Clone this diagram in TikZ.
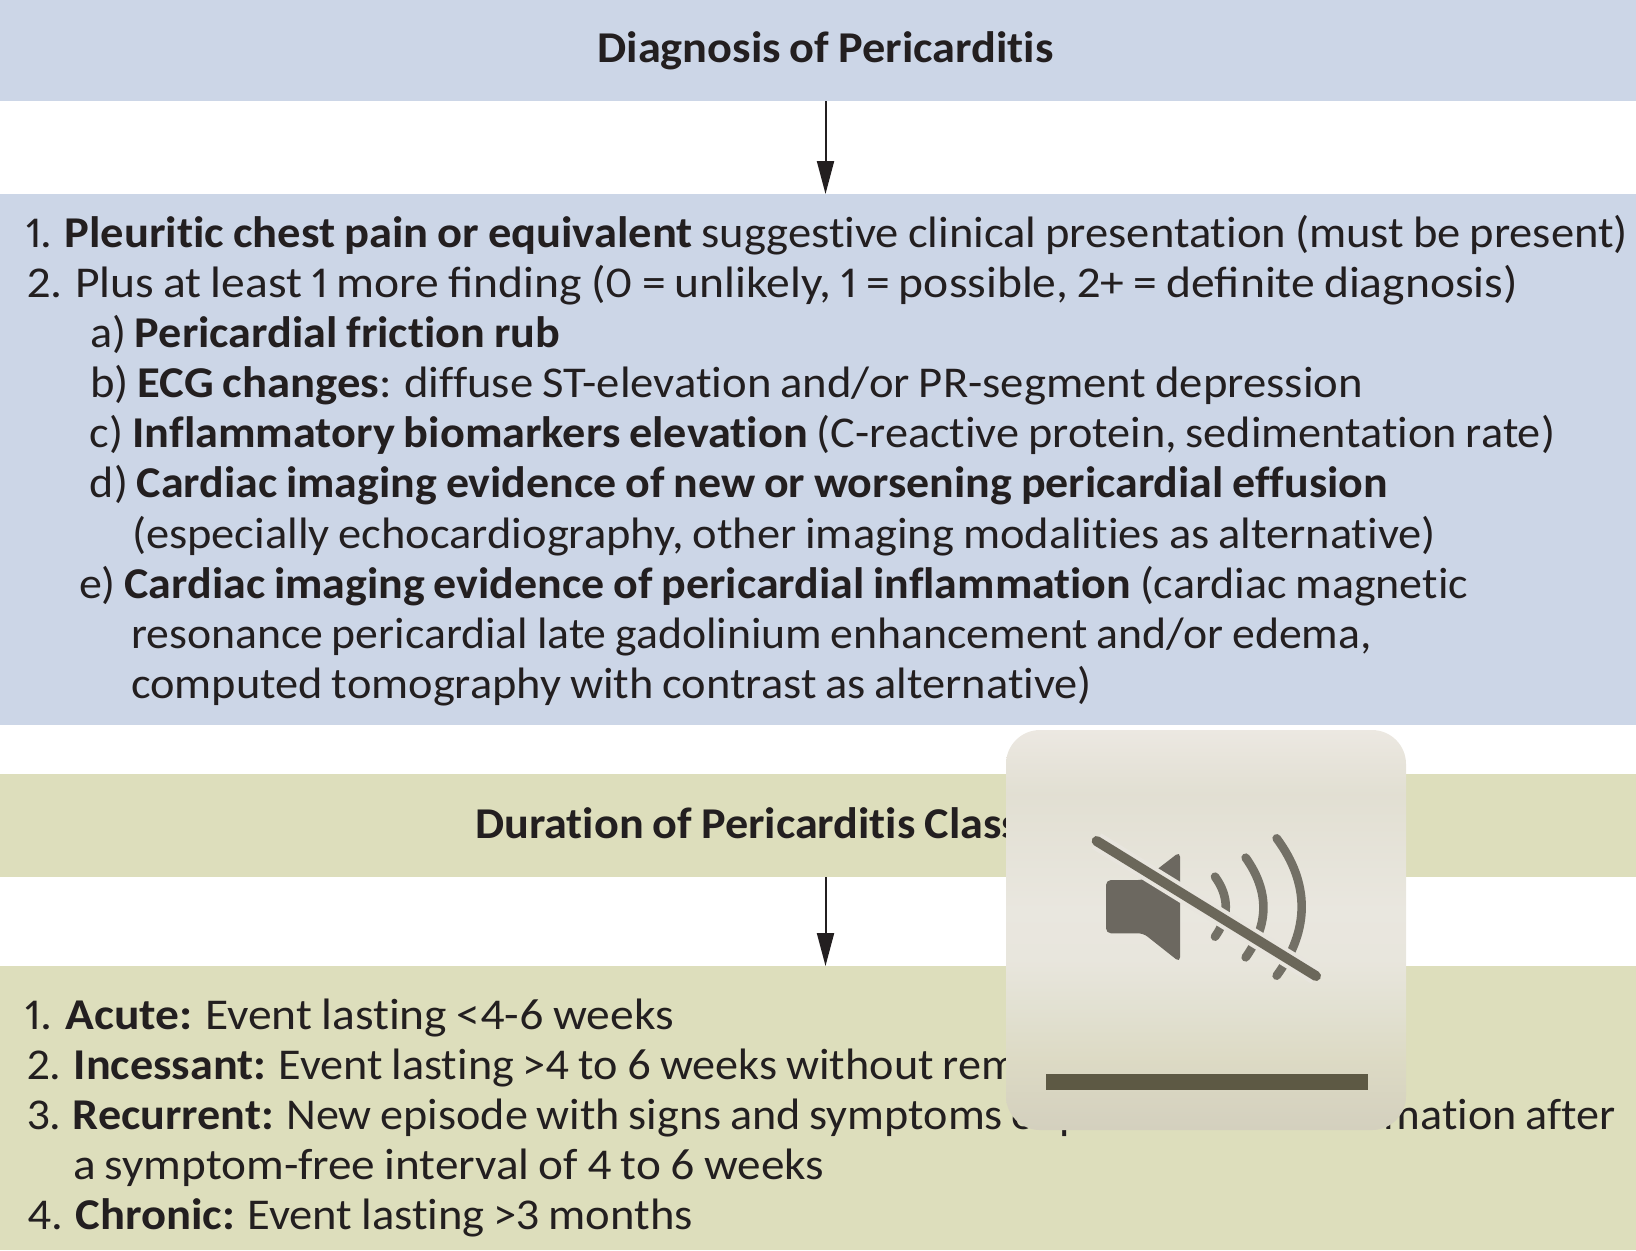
\documentclass[tikz,border=0pt]{standalone}
\usepackage{fontspec}
\usepackage{graphicx}
\setmainfont{Carlito}[Numbers=Proportional,RawFeature=-liga,WordSpace=0.85]
\usetikzlibrary{arrows.meta}
\definecolor{bluebar}{RGB}{204,214,231}
\definecolor{greenbar}{RGB}{221,222,188}
\definecolor{ink}{RGB}{35,31,32}
\definecolor{spk}{RGB}{108,104,96}
\definecolor{arcc}{RGB}{115,112,102}
\definecolor{slash}{RGB}{107,103,90}
\definecolor{ovbar}{RGB}{93,89,68}
\definecolor{casing}{RGB}{232,229,222}
\pgfdeclareverticalshading{ovl}{100bp}{
 rgb(0bp)=(.83,.815,.745);
 rgb(25bp)=(.83,.815,.745);
 rgb(33.75bp)=(.865,.855,.77);
 rgb(40bp)=(.885,.88,.82);
 rgb(46bp)=(.91,.9,.865);
 rgb(52.5bp)=(.915,.905,.875);
 rgb(67bp)=(.885,.875,.825);
 rgb(75bp)=(.925,.91,.885);
 rgb(100bp)=(.925,.91,.885)}
\newcommand\fitln[2]{\resizebox{\dimexpr #1pt/2\relax}{\height}{#2}}
\tikzset{
 bar/.style={rectangle,inner sep=0pt,outer sep=0pt,minimum width=818pt},
 line/.style={anchor=base west,inner sep=0pt,outer sep=0pt,text=ink,font=\fontsize{22}{25}\selectfont},
 ttl/.style={anchor=base,inner sep=0pt,outer sep=0pt,text=ink,font=\fontsize{22}{25}\selectfont\bfseries},
 conn/.style={draw=ink,line width=1pt,-{Triangle[length=16.5pt,width=8.5pt]},shorten >=0pt}
}
\begin{document}
\begin{tikzpicture}[x=.5pt,y=-.5pt]
\useasboundingbox (0,0) rectangle (1636,1250);
\node[bar,fill=bluebar,minimum height=50.5pt] (b1) at (818,50.5) {};
\node[bar,fill=bluebar,minimum height=265.5pt] (b2) at (818,459.5) {};
\node[bar,fill=greenbar,minimum height=51.5pt] (b3) at (818,825.5) {};
\node[bar,fill=greenbar,minimum height=142pt] (b4) at (818,1108) {};
\node[ttl] (t1) at (825.5,62.5) {\fitln{456}{Diagnosis of Pericarditis}};
\node[ttl] (t2) at (825.5,838) {\scalebox{1.05}[1]{Duration of Pericarditis Classification}};
\draw[conn] (b1.south -| t1.base) -- (b2.north -| t1.base);
\draw[conn] (b3.south -| t2.base) -- (b4.north -| t2.base);
\node[line] (l1) at (25,247) {\fitln{1603}{1. \textbf{Pleuritic chest pain or equivalent} suggestive clinical presentation (must be present)}};
\node[line] (l2) at (27,297) {\fitln{1491}{2. Plus at least 1 more ﬁnding (0 = unlikely, 1 = possible, 2+ = deﬁnite diagnosis)}};
\node[line] (la) at (90,347) {\fitln{470}{a) \textbf{Pericardial friction rub}}};
\node[line] (lb) at (90,397) {\fitln{1273}{b) \textbf{ECG changes}: diffuse ST-elevation and/or PR-segment depression}};
\node[line] (lc) at (90,447) {\fitln{1465}{c) \textbf{Inflammatory biomarkers elevation} (C-reactive protein, sedimentation rate)}};
\node[line] (ld) at (90,497) {\fitln{1298}{d) \textbf{Cardiac imaging evidence of new or worsening pericardial effusion}}};
\node[line] (ld2) at (132,548) {\fitln{1304}{(especially echocardiography, other imaging modalities as alternative)}};
\node[line] (le) at (79,598) {\fitln{1389}{e) \textbf{Cardiac imaging evidence of pericardial inflammation} (cardiac magnetic}};
\node[line] (le2) at (131,648) {\fitln{1241}{resonance pericardial late gadolinium enhancement and/or edema,}};
\node[line] (le3) at (131,698) {\fitln{961}{computed tomography with contrast as alternative)}};
\node[line] (m1) at (25,1029) {\fitln{649}{1. \textbf{Acute:} Event lasting <4-6 weeks}};
\node[line] (m2) at (27,1079) {\scalebox{1.05}[1]{2. \textbf{Incessant:} Event lasting >4 to 6 weeks without remission}};
\node[line] (m3) at (27,1129) {\fitln{1589}{3. \textbf{Recurrent:} New episode with signs and symptoms of pericardial inflammation after}};
\node[line] (m3b) at (73,1179) {\fitln{751}{a symptom-free interval of 4 to 6 weeks}};
\node[line] (m4) at (27,1229) {\fitln{666}{4. \textbf{Chronic:} Event lasting >3 months}};
% overlay
\path[shading=ovl,rounded corners=17pt] (1006,730) rectangle (1406,1130);
\begin{scope}[shift={(980,710)},x=.5pt/3,y=-.5pt/3]
\fill[spk,rounded corners=2.5pt] (378,510) -- (490,510) -- (600,425) -- (600,757) -- (490,670) -- (378,670) -- cycle;
\draw[arcc,line width=4.3pt,line cap=round] (890,385) .. controls (990,520) and (990,660) .. (890,797);
\draw[arcc,line width=4.3pt,line cap=round] (797,443) .. controls (868,543) and (868,642) .. (797,742);
\draw[arcc,line width=4.3pt,line cap=round] (705,500) .. controls (748,560) and (748,620) .. (705,680);
\draw[casing,line width=9pt] (350,393) -- (1008,798);
\draw[slash,line width=5pt,line cap=round] (350,393) -- (1008,798);
\fill[ovbar] (198,1092) rectangle (1164,1140);
\end{scope}
\end{tikzpicture}
\end{document}
